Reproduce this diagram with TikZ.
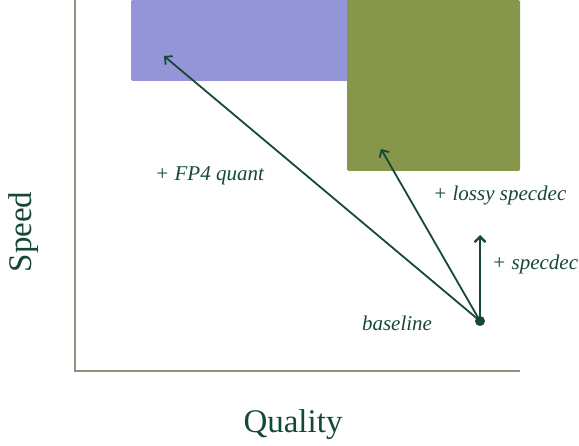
\documentclass[tikz,border=0pt]{standalone}
\usepackage{fontspec}
\setmainfont{Liberation Serif}
\usepackage{tikz}
\usetikzlibrary{arrows.meta,positioning}
\definecolor{qsink}{RGB}{22,72,56}
\definecolor{qsaxis}{RGB}{136,150,126}
\definecolor{qspurple}{RGB}{148,148,216}
\definecolor{qsolive}{RGB}{134,150,74}

\begin{document}
\begin{tikzpicture}[x=1pt,y=-1pt,>={Straight Barb[length=5.5pt,width=11pt]},
    lbl/.style={font=\fontsize{21}{24}\selectfont\itshape,text=qsink,inner sep=0pt},
    axlbl/.style={font=\fontsize{33}{36}\selectfont,text=qsink,inner sep=0pt},
    gain/.style={->,draw=qsink,line width=1.8pt}]
    \useasboundingbox (0,0) rectangle (579,446);
    % regions
    \fill[qspurple,rounded corners=1.5pt] (131,0) rectangle (349,81);
    \fill[qsolive,rounded corners=1.5pt] (347,0) rectangle (520,171);
    % axes
    \draw[qsaxis,line width=2pt] (75,0)--(75,371)--(520,371);
    \node[axlbl] (quality) at (293,425) {Quality};
    \node[axlbl,rotate=90] (speed) at (24,232) {Speed};
    % baseline and the three moves
    \node[circle,fill=qsink,inner sep=0pt,minimum size=10pt] (base) at (480,321) {};
    \coordinate (spec) at (480,235);
    \coordinate (lossy) at (381,149);
    \coordinate (fp4) at (164,56);
    \draw[gain,line width=2.4pt] (base.center)--(spec);
    \draw[gain] (base.center)--(lossy);
    \draw[gain] (base.center)--(fp4);
    \node[lbl] (lbase) at (397,323) {baseline};
    \node[lbl,anchor=west] (lspec) at (492,264) {+ specdec};
    \node[lbl,anchor=west] (llossy) at (433,195) {+ lossy specdec};
    \node[lbl,anchor=west] (lfp4) at (155,176) {+ FP4 quant};
\end{tikzpicture}
\end{document}
